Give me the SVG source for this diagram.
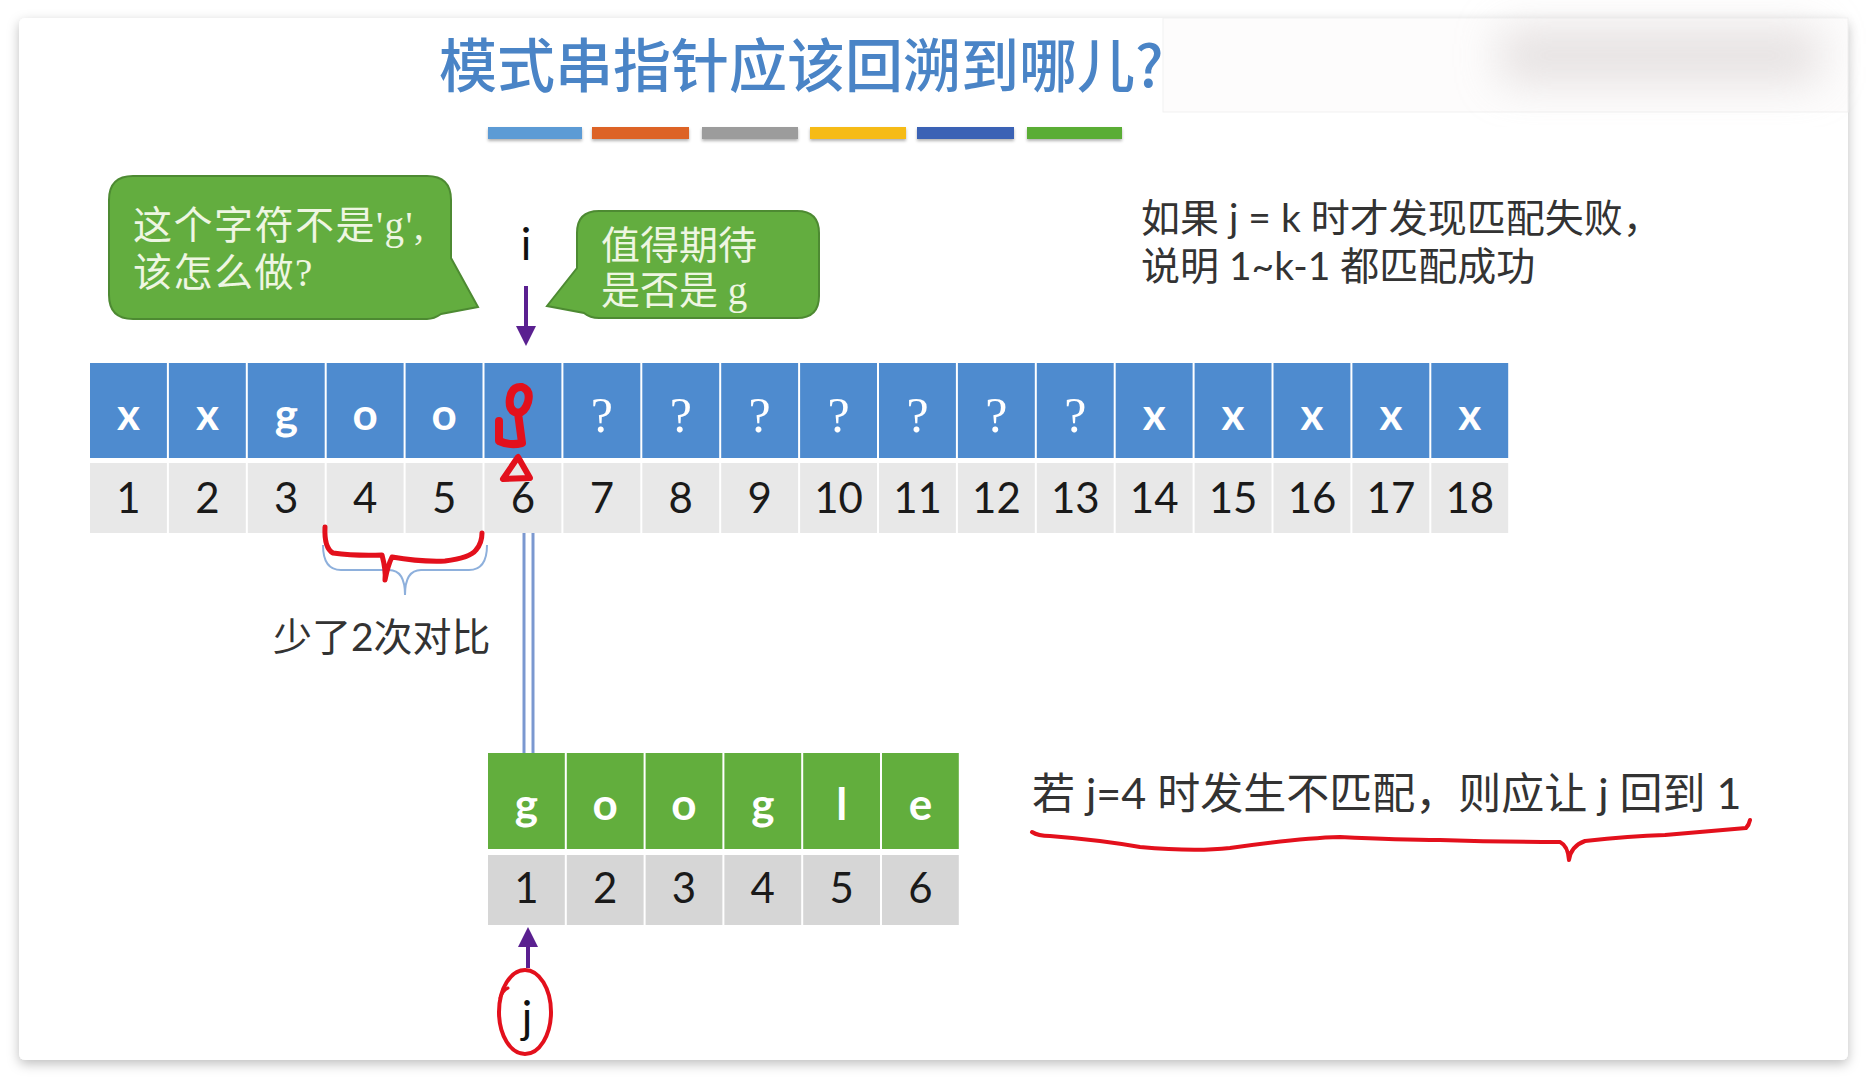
<svg xmlns="http://www.w3.org/2000/svg" width="1866" height="1080" viewBox="0 0 1866 1080">
<defs>
<style>
.sb{fill:#4e8bcf}
.sg{fill:#e8e8e8}
.pg{fill:#62ae3d}
.pgy{fill:#d6d6d6}
.lt{font-family:"Lato","Open Sans","Liberation Sans",sans-serif;font-weight:bold;font-size:44px;fill:#ffffff;text-anchor:middle}
.q{font-family:"Liberation Serif","DejaVu Serif",serif;font-size:50px;fill:#ffffff;text-anchor:middle}
.num{font-family:"Lato","Open Sans","Liberation Sans",sans-serif;font-size:42px;fill:#1a1a1a;text-anchor:middle}
.body{font-family:"Lato","Noto Sans CJK SC",sans-serif;fill:#333333}
.bub{fill:#63ad3f;stroke:#4d8a32;stroke-width:2}
.bt{font-family:"Liberation Serif","Noto Sans CJK SC",serif;font-size:39px;fill:#eef6e2}
.red{fill:none;stroke:#e3101c;stroke-linecap:round;stroke-linejoin:round}
.ptr{stroke:#5a2090;stroke-width:4;fill:none}
</style>
<filter id="shadow" x="-5%" y="-5%" width="110%" height="112%">
<feDropShadow dx="0" dy="4" stdDeviation="6" flood-color="#000" flood-opacity="0.25"/>
</filter>
<filter id="soft" x="-10%" y="-50%" width="120%" height="250%">
<feDropShadow dx="0" dy="2" stdDeviation="1.5" flood-color="#000" flood-opacity="0.3"/>
</filter>
<filter id="blur" x="-50%" y="-80%" width="200%" height="260%">
<feGaussianBlur stdDeviation="22"/>
</filter>
<marker id="head" viewBox="0 0 10 10" refX="5" refY="5" markerWidth="5" markerHeight="5" orient="auto">
<path d="M0,0 L10,5 L0,10 Z" fill="#5a2090"/>
</marker>
</defs>

<rect x="0" y="0" width="1866" height="1080" fill="#ffffff"/>
<rect id="slide" x="19" y="18" width="1829" height="1042" rx="6" fill="#ffffff" filter="url(#shadow)"/>

<g id="title">
<text x="439" y="87" font-family="Noto Sans CJK SC, sans-serif" font-size="58" font-weight="500" fill="#4a84c6">模式串指针应该回溯到哪儿?</text>
</g>

<g id="overlay">
<rect x="1163" y="18" width="685" height="94" fill="#fdfcfc" stroke="#f1f1f1" stroke-width="1"/>
<rect x="1500" y="28" width="320" height="55" fill="#dcd6d6" filter="url(#blur)" opacity="0.7"/>
</g>

<g id="bars" filter="url(#soft)">
<rect x="488" y="127" width="94" height="12" fill="#5b9bd5"/>
<rect x="592" y="127" width="97" height="12" fill="#dd6328"/>
<rect x="702" y="127" width="96" height="12" fill="#9c9c9c"/>
<rect x="810" y="127" width="96" height="12" fill="#f6bb14"/>
<rect x="917" y="127" width="97" height="12" fill="#3a62b5"/>
<rect x="1027" y="127" width="95" height="12" fill="#5aad35"/>
</g>

<g id="bubble1">
<path class="bub" d="M133,176 H427 Q451,176 451,200 V258 L478,307 L441,314 Q434,319 427,319 H133 Q109,319 109,295 V200 Q109,176 133,176 Z"/>
<text class="bt" x="133" y="239" letter-spacing="1.5">这个字符不是'g',</text>
<text class="bt" x="133" y="286" letter-spacing="1.5">该怎么做?</text>
</g>

<g id="bubble2">
<path class="bub" d="M599,211 H797 Q819,211 819,233 V296 Q819,318 797,318 H599 Q590,318 584,313 L547,306 L577,268 V233 Q577,211 599,211 Z"/>
<text class="bt" x="601" y="259">值得期待</text>
<text class="bt" x="601" y="304">是否是 g</text>
</g>

<g id="label-i">
<text x="526" y="260" font-family="Lato, Liberation Sans, sans-serif" font-size="44" fill="#111" text-anchor="middle">i</text>
</g>

<g id="note-top">
<text class="body" x="1141" y="232" font-size="39">如果 j = k 时才发现匹配失败，</text>
<text class="body" x="1141" y="280" font-size="39">说明 1~k-1 都匹配成功</text>
</g>

<g id="main-string">
<rect class="sb" x="90" y="363" width="76.9" height="95"/>
<rect class="sb" x="168.9" y="363" width="76.9" height="95"/>
<rect class="sb" x="247.8" y="363" width="76.9" height="95"/>
<rect class="sb" x="326.7" y="363" width="76.9" height="95"/>
<rect class="sb" x="405.6" y="363" width="76.9" height="95"/>
<rect class="sb" x="484.5" y="363" width="76.9" height="95"/>
<rect class="sb" x="563.4" y="363" width="76.9" height="95"/>
<rect class="sb" x="642.3" y="363" width="76.9" height="95"/>
<rect class="sb" x="721.2" y="363" width="76.9" height="95"/>
<rect class="sb" x="800.1" y="363" width="76.9" height="95"/>
<rect class="sb" x="879" y="363" width="76.9" height="95"/>
<rect class="sb" x="957.9" y="363" width="76.9" height="95"/>
<rect class="sb" x="1036.8" y="363" width="76.9" height="95"/>
<rect class="sb" x="1115.7" y="363" width="76.9" height="95"/>
<rect class="sb" x="1194.6" y="363" width="76.9" height="95"/>
<rect class="sb" x="1273.5" y="363" width="76.9" height="95"/>
<rect class="sb" x="1352.4" y="363" width="76.9" height="95"/>
<rect class="sb" x="1431.3" y="363" width="76.9" height="95"/>

<rect class="sg" x="90" y="463" width="76.9" height="70"/>
<rect class="sg" x="168.9" y="463" width="76.9" height="70"/>
<rect class="sg" x="247.8" y="463" width="76.9" height="70"/>
<rect class="sg" x="326.7" y="463" width="76.9" height="70"/>
<rect class="sg" x="405.6" y="463" width="76.9" height="70"/>
<rect class="sg" x="484.5" y="463" width="76.9" height="70"/>
<rect class="sg" x="563.4" y="463" width="76.9" height="70"/>
<rect class="sg" x="642.3" y="463" width="76.9" height="70"/>
<rect class="sg" x="721.2" y="463" width="76.9" height="70"/>
<rect class="sg" x="800.1" y="463" width="76.9" height="70"/>
<rect class="sg" x="879" y="463" width="76.9" height="70"/>
<rect class="sg" x="957.9" y="463" width="76.9" height="70"/>
<rect class="sg" x="1036.8" y="463" width="76.9" height="70"/>
<rect class="sg" x="1115.7" y="463" width="76.9" height="70"/>
<rect class="sg" x="1194.6" y="463" width="76.9" height="70"/>
<rect class="sg" x="1273.5" y="463" width="76.9" height="70"/>
<rect class="sg" x="1352.4" y="463" width="76.9" height="70"/>
<rect class="sg" x="1431.3" y="463" width="76.9" height="70"/>

<text class="lt" x="128.5" y="430">x</text>
<text class="lt" x="207.4" y="430">x</text>
<text class="lt" x="286.3" y="430">g</text>
<text class="lt" x="365.2" y="430">o</text>
<text class="lt" x="444.1" y="430">o</text>
<text class="q" x="601.9" y="432">?</text>
<text class="q" x="680.8" y="432">?</text>
<text class="q" x="759.7" y="432">?</text>
<text class="q" x="838.6" y="432">?</text>
<text class="q" x="917.5" y="432">?</text>
<text class="q" x="996.4" y="432">?</text>
<text class="q" x="1075.3" y="432">?</text>
<text class="lt" x="1154.2" y="430">x</text>
<text class="lt" x="1233.1" y="430">x</text>
<text class="lt" x="1312" y="430">x</text>
<text class="lt" x="1390.9" y="430">x</text>
<text class="lt" x="1469.8" y="430">x</text>

<text class="num" x="128.5" y="513">1</text>
<text class="num" x="207.4" y="513">2</text>
<text class="num" x="286.3" y="513">3</text>
<text class="num" x="365.2" y="513">4</text>
<text class="num" x="444.1" y="513">5</text>
<text class="num" x="523" y="513">6</text>
<text class="num" x="601.9" y="513">7</text>
<text class="num" x="680.8" y="513">8</text>
<text class="num" x="759.7" y="513">9</text>
<text class="num" x="838.6" y="513">10</text>
<text class="num" x="917.5" y="513">11</text>
<text class="num" x="996.4" y="513">12</text>
<text class="num" x="1075.3" y="513">13</text>
<text class="num" x="1154.2" y="513">14</text>
<text class="num" x="1233.1" y="513">15</text>
<text class="num" x="1312" y="513">16</text>
<text class="num" x="1390.9" y="513">17</text>
<text class="num" x="1469.8" y="513">18</text>
</g>

<g id="pattern-string">
<rect class="pg" x="488" y="753" width="76.8" height="96"/>
<rect class="pg" x="566.8" y="753" width="76.8" height="96"/>
<rect class="pg" x="645.6" y="753" width="76.8" height="96"/>
<rect class="pg" x="724.4" y="753" width="76.8" height="96"/>
<rect class="pg" x="803.2" y="753" width="76.8" height="96"/>
<rect class="pg" x="882" y="753" width="76.8" height="96"/>
<rect class="pgy" x="488" y="855" width="76.8" height="70"/>
<rect class="pgy" x="566.8" y="855" width="76.8" height="70"/>
<rect class="pgy" x="645.6" y="855" width="76.8" height="70"/>
<rect class="pgy" x="724.4" y="855" width="76.8" height="70"/>
<rect class="pgy" x="803.2" y="855" width="76.8" height="70"/>
<rect class="pgy" x="882" y="855" width="76.8" height="70"/>
<text class="lt" x="526.4" y="820">g</text>
<text class="lt" x="605.2" y="820">o</text>
<text class="lt" x="684" y="820">o</text>
<text class="lt" x="762.8" y="820">g</text>
<text class="lt" x="841.6" y="820">l</text>
<text class="lt" x="920.4" y="820">e</text>
<text class="num" x="526.4" y="903">1</text>
<text class="num" x="605.2" y="903">2</text>
<text class="num" x="684" y="903">3</text>
<text class="num" x="762.8" y="903">4</text>
<text class="num" x="841.6" y="903">5</text>
<text class="num" x="920.4" y="903">6</text>
</g>

<g id="label-j">
<text x="527" y="1033" font-family="Lato, Liberation Sans, sans-serif" font-size="44" fill="#111" text-anchor="middle">j</text>
</g>

<g id="brace">
<path d="M323,545 Q323,570 341,570 H389 Q405,570 405,595 Q405,570 421,570 H469 Q487,570 487,545" fill="none" stroke="#8eb0dc" stroke-width="2"/>
<text class="body" x="273" y="651" font-size="39">少了2次对比</text>
</g>

<g id="note-bottom">
<text class="body" x="1032" y="809" font-size="43">若 j=4 时发生不匹配，则应让 j 回到 1</text>
</g>

<g id="connectors">
<line class="ptr" x1="526" y1="286" x2="526" y2="336" marker-end="url(#head)"/>
<line class="ptr" x1="528" y1="968" x2="528" y2="937" marker-end="url(#head)"/>
<line x1="524" y1="533" x2="524" y2="753" stroke="#7b98d0" stroke-width="3"/>
<line x1="533" y1="533" x2="533" y2="753" stroke="#7b98d0" stroke-width="3"/>
</g>

<g id="annotations">
<path class="red" stroke-width="8" d="M518,413 Q508,411 510,398 Q512,386 522,387 Q531,390 528,402 Q525,412 518,413 Q520,428 522,443 Q510,446 499,441 L499,421"/>
<path class="red" stroke-width="6" d="M518,457 L503,479 L530,478 Z"/>
<path class="red" stroke-width="5" d="M325,527 Q324,548 333,553 Q355,556 382,555 Q386,570 385,580 Q388,565 392,557 Q420,562 445,561 Q470,558 476,550 Q482,543 482,533"/>
<path class="red" stroke-width="4" d="M1032,832 Q1038,836 1050,836 Q1100,840 1140,847 Q1194,852 1230,848 Q1300,838 1340,837 Q1400,840 1440,840 Q1500,842 1560,842 Q1568,846 1569,860 Q1571,846 1585,841 Q1630,836 1665,835 Q1710,831 1746,828 Q1749,825 1750,820"/>
<ellipse class="red" stroke-width="4" cx="525" cy="1012" rx="26" ry="42"/>
<path class="red" stroke-width="3" d="M500,998 Q503,990 508,988"/>
</g>
</svg>
